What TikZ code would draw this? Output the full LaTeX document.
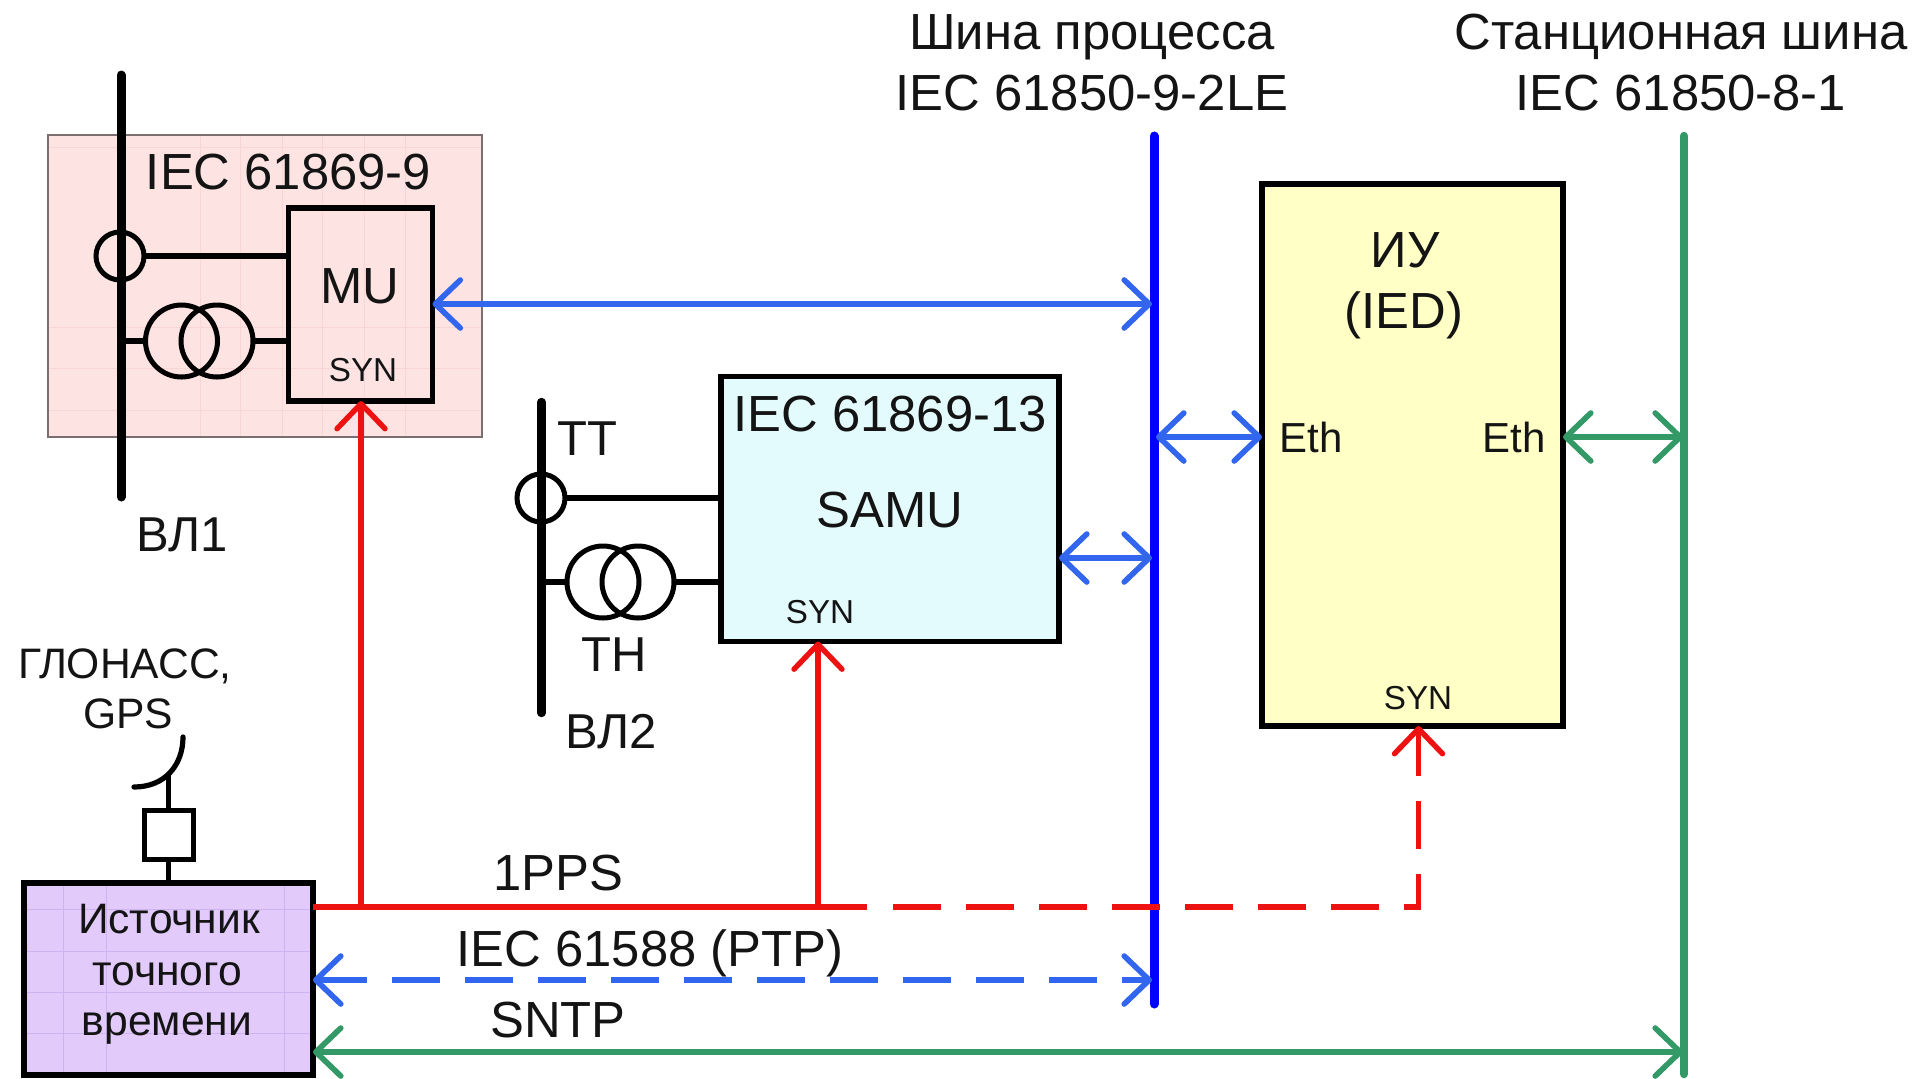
\documentclass[tikz,border=0pt]{standalone}
\usepackage{fontspec}
\setmainfont{Liberation Sans}
\usetikzlibrary{arrows.meta}
\definecolor{pinkfill}{HTML}{FDE4E3}
\definecolor{pinkedge}{HTML}{7A6E6E}
\definecolor{pinkgrid}{HTML}{F8D6D6}
\definecolor{purplefill}{HTML}{E2CBFB}
\definecolor{purplegrid}{HTML}{CFB2F2}
\definecolor{cyanfill}{HTML}{E4FBFD}
\definecolor{yellowfill}{HTML}{FFFFC6}
\definecolor{netgreen}{HTML}{339966}
\definecolor{netblue}{HTML}{3366EE}
\definecolor{netred}{HTML}{EE1111}
\definecolor{txt}{HTML}{141414}
\tikzset{
  x=0.5pt,y=-0.5pt,
  lbl/.style={anchor=base,inner sep=0pt,outer sep=0pt,text=txt,font=\fontsize{25.4}{30}\selectfont},
  lblcyr/.style={lbl,font=\fontsize{24.5}{30}\selectfont},
  lblmid/.style={lbl,font=\fontsize{21.3}{25}\selectfont},
  lbleth/.style={lbl,font=\fontsize{21}{25}\selectfont},
  lblsyn/.style={lbl,font=\fontsize{16.6}{20}\selectfont},
  box/.style={rectangle,draw=black,line width=2.75pt,inner sep=0pt,outer sep=0pt},
  ring/.style={circle,draw=black,line width=2.5pt,inner sep=0pt,outer sep=0pt},
  wire/.style={draw=black,line width=2.6pt},
  busbar/.style={draw=black,line width=4.5pt,line cap=round},
  barb/.tip={Straight Barb[length=12.5pt,width=24pt,round]},
  redlink/.style={draw=netred,line width=2.7pt},
  bluelink/.style={draw=netblue,line width=2.8pt,{barb}-{barb}},
  greenlink/.style={draw=netgreen,line width=2.8pt,{barb}-{barb}},
  dashlink/.style={dash pattern=on 24pt off 12.5pt},
}
\begin{document}
\begin{tikzpicture}
\useasboundingbox (0,0) rectangle (1917,1078);
\fill[white] (0,0) rectangle (1917,1078);

% pink area
\node[rectangle,draw=pinkedge,fill=pinkfill,line width=1.1pt,minimum width=217pt,minimum height=151pt,inner sep=0pt,outer sep=0pt] (area) at (265,286) {};
\foreach \gx in {200,240,282,322,364,405} \draw[pinkgrid,line width=.4pt] (\gx,136) -- (\gx,436);
\foreach \gy in {147,327,368,410} \draw[pinkgrid,line width=.4pt] (49,\gy) -- (481,\gy);

% line 1
\coordinate (b1top) at (121,75);
\coordinate (b1bot) at (121,497);
\draw[busbar] (b1top) -- (b1bot);
\node[box,minimum width=72pt,minimum height=96.5pt] (mu) at (360.5,304.5) {};
\node[ring,minimum size=24pt] (ct1) at (120,256) {};
\node[ring,minimum size=36pt] (vt1a) at (181.5,341) {};
\node[ring,minimum size=36pt] (vt1b) at (217,341) {};
\draw[wire] (ct1.east) -- (mu.west |- ct1.east);
\draw[wire] (b1top |- vt1a.west) -- (vt1a.west);
\draw[wire] (vt1b.east) -- (mu.west |- vt1b.east);
\node[lbl] (t61869a) at (288.5,189) {IEC 61869-9};
\node[lbl] (tmu) at (360,303) {MU};
\node[lblsyn] (tsyn1) at (363,381) {SYN};
\node[lblcyr] (tvl1) at (182,551) {ВЛ1};

% line 2
\coordinate (b2top) at (541.5,402);
\coordinate (b2bot) at (541.5,713);
\draw[busbar,line width=4.2pt] (b2top) -- (b2bot);
\node[box,fill=cyanfill,minimum width=169pt,minimum height=132.5pt] (samu) at (890,509) {};
\node[ring,minimum size=24pt] (ct2) at (541,498) {};
\node[ring,minimum size=36pt] (vt2a) at (603,582) {};
\node[ring,minimum size=36pt] (vt2b) at (638,582) {};
\draw[wire] (ct2.east) -- (samu.west |- ct2.east);
\draw[wire] (b2top |- vt2a.west) -- (vt2a.west);
\draw[wire] (vt2b.east) -- (samu.west |- vt2b.east);
\node[lbl] (t61869b) at (890,431) {IEC 61869-13};
\node[lbl] (tsamu) at (890,527) {SAMU};
\node[lblsyn] (tsyn2) at (820,623) {SYN};
\node[lblcyr] (ttt) at (587,455) {ТТ};
\node[lblcyr] (tth) at (614,671) {ТН};
\node[lblcyr] (tvl2) at (611,748) {ВЛ2};

% IED
\node[box,fill=yellowfill,minimum width=150.5pt,minimum height=271pt] (ied) at (1412.5,455) {};
\node[lbl] (tiu) at (1405,267) {ИУ};
\node[lbl] (tied) at (1404,328) {(IED)};
\node[lbleth] (teth1) at (1311,452) {Eth};
\node[lbleth] (teth2) at (1514,452) {Eth};
\node[lblsyn] (tsyn3) at (1418,709) {SYN};

% buses
\coordinate (pbT) at (1154,136);
\coordinate (pbB) at (1154,1004);
\coordinate (sbT) at (1684,136);
\coordinate (sbB) at (1684,1074);
\draw[draw=blue,line width=4.5pt,line cap=round] (pbT) -- (pbB);
\draw[draw=netgreen,line width=4.2pt,line cap=round] (sbT) -- (sbB);
\node[lbl] (th1) at (1092,49) {Шина процесса};
\node[lbl] (th2) at (1092,110) {IEC 61850-9-2LE};
\node[lbl] (th3) at (1681,49) {Станционная шина};
\node[lbl] (th4) at (1681,110) {IEC 61850-8-1};

% time source
\node[box,fill=purplefill,minimum width=144.5pt,minimum height=96pt] (src) at (168.5,979) {};
\foreach \gx in {63,106,284} \draw[purplegrid,line width=.4pt] (\gx,886) -- (\gx,1072);
\foreach \gy in {909,951,992,1033} \draw[purplegrid,line width=.4pt] (27,\gy) -- (310,\gy);
\node[box,fill=white,line width=2.5pt,minimum size=24.5pt] (ant) at (168.5,835) {};
\coordinate (antTop) at (168.5,773);
\draw[wire] (ant.north) -- (antTop);
\draw[wire] (ant.south) -- (src.north -| ant.south);
\coordinate (dishA) at (134,787);
\coordinate (dishB) at (183,737);
\draw[wire,line cap=round] (dishA) .. controls (165,787) and (183,765) .. (dishB);
\node[lblmid] (tsrc1) at (169,933) {Источник};
\node[lblmid] (tsrc2) at (167,985) {точного};
\node[lblmid] (tsrc3) at (167,1035) {времени};
\node[lblmid] (tgl) at (125,678) {ГЛОНАСС,};
\node[lblmid] (tgp) at (128,728) {GPS};

% 1PPS
\coordinate (ppsMU) at (361,907);
\coordinate (ppsSA) at (818,907);
\coordinate (ppsEnd) at (867,907);
\coordinate (ppsDash) at (893,907);
\coordinate (ppsCorner) at (1418.5,907);
\draw[redlink] (src.east |- ppsMU) -- (ppsEnd);
\draw[redlink,dashlink] (ppsDash) -- (ppsCorner) -- (ied.south -| ppsCorner);
\draw[redlink,-{barb}] (ppsCorner |- 0,760) -- (ied.south -| ppsCorner);
\draw[redlink,-{barb}] (ppsMU) -- (mu.south -| ppsMU);
\draw[redlink,-{barb}] (ppsSA) -- (samu.south -| ppsSA);

% network links
\coordinate (pb1) at (1152,304);
\coordinate (pb2) at (1152,558);
\coordinate (pb3) at (1156,437);
\coordinate (pb4) at (1152,980);
\coordinate (sb1) at (1683,437);
\coordinate (sb2) at (1683,1052);
\draw[bluelink] (mu.east |- pb1) -- (pb1);
\draw[bluelink] (samu.east |- pb2) -- (pb2);
\draw[bluelink] (pb3) -- (ied.west |- pb3);
\draw[greenlink] (ied.east |- sb1) -- (sb1);
\draw[bluelink,dashlink] (src.east |- pb4) -- (pb4);
\draw[greenlink] (src.east |- sb2) -- (sb2);
\node[lbl] (t1pps) at (558,890) {1PPS};
\node[lbl] (tptp) at (650,966) {IEC 61588 (PTP)};
\node[lbl] (tsntp) at (558,1037) {SNTP};
\end{tikzpicture}
\end{document}
